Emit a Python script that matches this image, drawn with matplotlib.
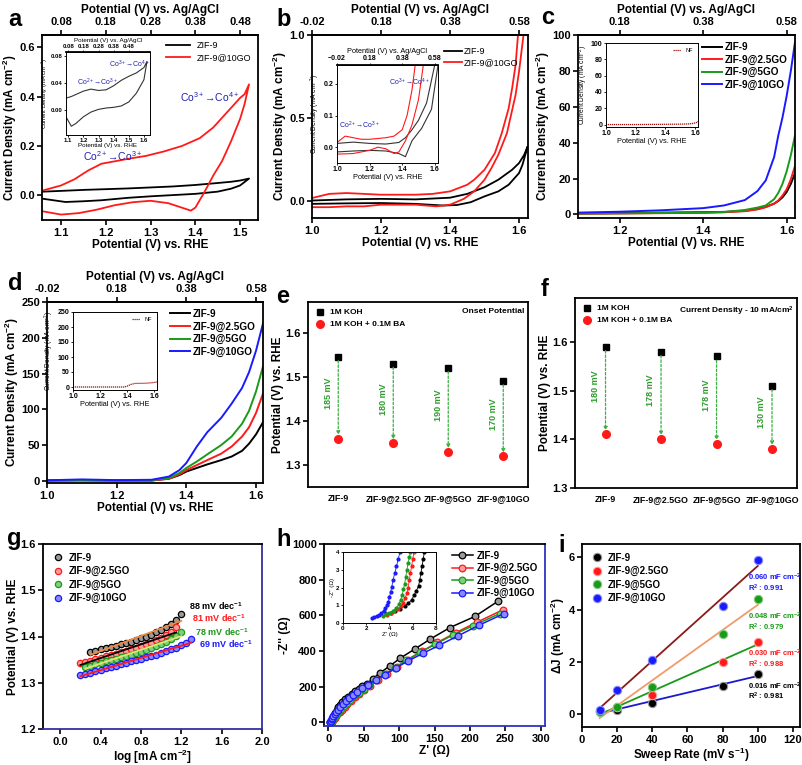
import matplotlib
matplotlib.use("Agg")
import matplotlib.pyplot as plt
import numpy as np

plt.rcParams["font.family"] = ["Liberation Sans", "DejaVu Sans"]
plt.rcParams["font.weight"] = "bold"
plt.rcParams["axes.labelweight"] = "bold"
plt.rcParams["axes.linewidth"] = 1.3
plt.rcParams["mathtext.fontset"] = "custom"
plt.rcParams["mathtext.rm"] = "Liberation Sans:bold"
plt.rcParams["mathtext.it"] = "Liberation Sans:bold:italic"
plt.rcParams["mathtext.bf"] = "Liberation Sans:bold"
plt.rcParams["mathtext.default"] = "regular"
for ax_ in ("xtick", "ytick"):
    plt.rcParams[f"{ax_}.major.width"] = 1.2
    plt.rcParams[f"{ax_}.major.size"] = 3.5
    plt.rcParams[f"{ax_}.labelsize"] = 8
    plt.rcParams[f"{ax_}.direction"] = "out"
plt.rcParams["xtick.major.pad"] = 2
plt.rcParams["ytick.major.pad"] = 1.5

W, H = 803, 765
OFFSET = 1.02  # RHE -> Ag/AgCl

# ---------------- data ----------------
# (a) CV, ZIF-9 vs ZIF-9@10GO
A_ZIF9_X = [1.06, 1.10, 1.15, 1.20, 1.25, 1.30, 1.35, 1.40, 1.45, 1.48, 1.50, 1.52,
            1.52, 1.50, 1.48, 1.45, 1.40, 1.34, 1.30, 1.25, 1.19, 1.15, 1.11, 1.06]
A_ZIF9_Y = [0.015, 0.018, 0.022, 0.025, 0.028, 0.032, 0.036, 0.042, 0.050, 0.055, 0.060, 0.068,
            0.068, 0.040, 0.027, 0.015, 0.006, 0.000, -0.004, -0.010, -0.020, -0.024, -0.027, -0.014]
A_GO_X = [1.06, 1.10, 1.13, 1.16, 1.19, 1.22, 1.25, 1.29, 1.33, 1.37, 1.41, 1.44, 1.47,
          1.49, 1.50, 1.51, 1.52, 1.51, 1.50, 1.48, 1.46, 1.44, 1.42, 1.40, 1.39, 1.37,
          1.34, 1.30, 1.26, 1.22, 1.18, 1.14, 1.10, 1.06]
A_GO_Y = [0.020, 0.040, 0.065, 0.100, 0.128, 0.138, 0.148, 0.160, 0.178, 0.200, 0.232, 0.275, 0.335,
          0.375, 0.395, 0.410, 0.450, 0.370, 0.310, 0.220, 0.140, 0.080, 0.012, -0.050, -0.062, -0.050,
          -0.032, -0.022, -0.028, -0.040, -0.058, -0.072, -0.078, -0.065]
AI_X = [1.09, 1.12, 1.15, 1.20, 1.25, 1.30, 1.35, 1.40, 1.45, 1.50, 1.55, 1.60, 1.62,
        1.62, 1.60, 1.55, 1.50, 1.45, 1.40, 1.35, 1.30, 1.25, 1.20, 1.15, 1.12, 1.09]
AI_Y = [0.018, 0.020, 0.023, 0.028, 0.031, 0.029, 0.030, 0.036, 0.044, 0.050, 0.055, 0.063, 0.072,
        0.072, 0.045, 0.025, 0.012, 0.006, 0.004, 0.003, 0.001, -0.003, -0.010, -0.020, -0.024, -0.012]

# (b) CV wide range
B_ZIF9_X = [1.00, 1.10, 1.20, 1.30, 1.40, 1.45, 1.50, 1.54, 1.58, 1.60, 1.615, 1.625,
            1.625, 1.61, 1.60, 1.57, 1.54, 1.50, 1.46, 1.42, 1.38, 1.30, 1.20, 1.10, 1.00]
B_ZIF9_Y = [0.005, 0.012, 0.015, 0.012, 0.022, 0.045, 0.085, 0.130, 0.190, 0.230, 0.280, 0.330,
            0.330, 0.220, 0.170, 0.100, 0.060, 0.030, -0.005, -0.022, -0.025, -0.015, -0.010, -0.012, -0.015]
B_GO_X = [1.00, 1.05, 1.10, 1.15, 1.20, 1.30, 1.35, 1.40, 1.45, 1.47, 1.50, 1.53, 1.55, 1.57, 1.58,
          1.59, 1.597, 1.613, 1.60, 1.59, 1.565, 1.54, 1.52, 1.50, 1.47, 1.44, 1.40, 1.36, 1.30,
          1.20, 1.15, 1.10, 1.05, 1.00]
B_GO_Y = [0.020, 0.045, 0.050, 0.045, 0.040, 0.040, 0.045, 0.060, 0.100, 0.130, 0.190, 0.290, 0.410,
          0.560, 0.680, 0.820, 1.000, 1.000, 0.780, 0.640, 0.410, 0.280, 0.200, 0.130, 0.060, 0.015,
          -0.020, -0.030, -0.020, -0.020, -0.030, -0.030, -0.035, -0.035]
BI_ZIF9_X = [1.00, 1.10, 1.20, 1.30, 1.38, 1.42, 1.46, 1.50, 1.55, 1.60,
             1.62, 1.58, 1.52, 1.46, 1.42, 1.38, 1.30, 1.20, 1.10, 1.00]
BI_ZIF9_Y = [0.012, 0.016, 0.012, 0.010, 0.015, 0.030, 0.055, 0.085, 0.140, 0.260,
             0.260, 0.120, 0.060, 0.020, -0.030, -0.020, -0.012, -0.010, -0.012, -0.015]
BI_GO_X = [1.00, 1.05, 1.10, 1.15, 1.20, 1.30, 1.35, 1.40, 1.43, 1.46, 1.48,
           1.53, 1.50, 1.46, 1.42, 1.38, 1.35, 1.30, 1.25, 1.20, 1.10, 1.00]
BI_GO_Y = [0.015, 0.035, 0.030, 0.025, 0.025, 0.030, 0.035, 0.055, 0.100, 0.180, 0.260,
           0.260, 0.150, 0.070, 0.020, -0.015, -0.020, -0.005, 0.000, -0.010, -0.020, -0.022]

# (c) LSV
C_X = [1.10, 1.20, 1.30, 1.40, 1.45, 1.50, 1.53, 1.55, 1.57, 1.58, 1.59, 1.60, 1.61, 1.62]
C_ZIF9 = [0.6, 0.8, 1.0, 1.2, 1.4, 2.0, 3.0, 4.2, 6.0, 7.5, 9.5, 12.5, 17.0, 23.0]
C_25GO = [0.3, 0.5, 0.7, 0.9, 1.2, 1.8, 2.8, 4.0, 6.0, 7.8, 10.5, 14.0, 19.5, 27.0]
C_5GO = [0.5, 0.6, 0.8, 1.0, 1.3, 2.5, 3.8, 5.0, 8.5, 12.0, 17.0, 24.0, 33.0, 44.0]
C_10GO = [1.0, 1.5, 2.3, 3.5, 5.0, 8.0, 13.0, 19.0, 32.0, 44.0, 54.0, 66.0, 80.0, 96.0]
CI_NF_X = [1.00, 1.20, 1.40, 1.50, 1.56, 1.59, 1.61, 1.62]
CI_NF_Y = [0.0, 0.0, 0.3, 0.5, 0.8, 1.5, 2.5, 4.0]

# (d) LSV
D_X = [1.00, 1.10, 1.20, 1.30, 1.35, 1.38, 1.40, 1.43, 1.46, 1.50, 1.53, 1.56, 1.58, 1.60, 1.62]
D_ZIF9 = [0.5, 1.0, 0.5, 0.5, 3, 8, 13, 18, 23, 29, 34, 42, 52, 65, 82]
D_25GO = [0.3, 0.5, 0.3, 0.5, 3, 9, 15, 22, 29, 38, 48, 62, 75, 95, 122]
D_5GO = [0.5, 0.8, 0.5, 0.8, 4, 11, 18, 27, 37, 50, 62, 80, 98, 125, 160]
D_10GO = [0.8, 2.0, 1.0, 1.5, 6, 15, 25, 48, 68, 88, 108, 130, 152, 182, 220]
DI_NF_X = [1.00, 1.20, 1.38, 1.40, 1.43, 1.46, 1.50, 1.55, 1.60, 1.62]
DI_NF_Y = [0, 0, 0, 3, 9, 12, 12, 13, 15, 17]

# (e), (f) potentials
CATS = ["ZIF-9", "ZIF-9@2.5GO", "ZIF-9@5GO", "ZIF-9@10GO"]
E_KOH = [1.545, 1.530, 1.520, 1.490]
E_BA = [1.360, 1.350, 1.330, 1.320]
E_LABELS = ["185 mV", "180 mV", "190 mV", "170 mV"]
F_KOH = [1.590, 1.580, 1.570, 1.510]
F_BA = [1.410, 1.400, 1.390, 1.380]
F_LABELS = ["180 mV", "178 mV", "178 mV", "130 mV"]

# (g) Tafel
G_ZIF9_X = [0.30, 0.35, 0.40, 0.45, 0.50, 0.55, 0.60, 0.65, 0.70, 0.75, 0.80, 0.85, 0.90, 0.95,
            1.00, 1.05, 1.10, 1.15, 1.20]
G_ZIF9_Y = [1.366, 1.369, 1.372, 1.375, 1.377, 1.380, 1.383, 1.386, 1.389, 1.392, 1.396, 1.400,
            1.404, 1.409, 1.414, 1.420, 1.427, 1.436, 1.448]
G_25GO_X = [0.20, 0.25, 0.30, 0.35, 0.40, 0.45, 0.50, 0.55, 0.60, 0.65, 0.70, 0.75, 0.80, 0.85,
            0.90, 0.95, 1.00, 1.05, 1.10, 1.15]
G_25GO_Y = [1.343, 1.345, 1.348, 1.351, 1.354, 1.357, 1.360, 1.363, 1.366, 1.369, 1.372, 1.375,
            1.379, 1.383, 1.387, 1.392, 1.397, 1.403, 1.410, 1.420]
G_5GO_X = [0.25, 0.30, 0.35, 0.40, 0.45, 0.50, 0.55, 0.60, 0.65, 0.70, 0.75, 0.80, 0.85, 0.90,
           0.95, 1.00, 1.05, 1.10, 1.15, 1.20]
G_5GO_Y = [1.334, 1.337, 1.340, 1.343, 1.346, 1.349, 1.352, 1.355, 1.358, 1.361, 1.364, 1.367,
           1.371, 1.375, 1.379, 1.384, 1.389, 1.395, 1.402, 1.410]
G_10GO_X = [0.20, 0.25, 0.30, 0.35, 0.40, 0.45, 0.50, 0.55, 0.60, 0.65, 0.70, 0.75, 0.80, 0.85,
            0.90, 0.95, 1.00, 1.05, 1.10, 1.15, 1.20, 1.25, 1.30]
G_10GO_Y = [1.316, 1.319, 1.322, 1.325, 1.328, 1.331, 1.334, 1.337, 1.340, 1.343, 1.346, 1.349,
            1.352, 1.355, 1.358, 1.361, 1.364, 1.368, 1.372, 1.376, 1.381, 1.387, 1.394]
G_SLOPES = ["88", "81", "78", "69"]

# (h) Nyquist
H_ZIF9_X = [3, 4, 5, 6, 7, 8, 10, 12, 14, 17, 20, 24, 28, 33, 38, 43, 48, 55, 63, 73, 87, 102, 122, 144, 172, 207, 240]
H_ZIF9_Y = [0, 5, 12, 20, 30, 40, 55, 70, 85, 100, 115, 130, 145, 160, 175, 190, 203, 218, 246, 277, 317, 361, 411, 467, 532, 594, 680]
H_25GO_X = [4, 5, 6, 7, 8, 9, 11, 13, 16, 19, 23, 27, 32, 38, 44, 51, 59, 70, 83, 97, 113, 132, 154, 180, 210, 246]
H_25GO_Y = [0, 3, 7, 12, 18, 25, 35, 45, 58, 72, 88, 105, 122, 140, 160, 180, 205, 237, 272, 310, 352, 398, 448, 503, 562, 630]
H_5GO_X = [3.5, 4, 5, 6, 7, 8, 10, 12, 15, 18, 22, 26, 31, 37, 43, 50, 58, 68, 80, 94, 110, 129, 151, 176, 205, 242]
H_5GO_Y = [0, 3, 8, 14, 20, 27, 38, 50, 63, 78, 94, 110, 128, 146, 165, 186, 208, 237, 270, 307, 348, 392, 438, 490, 543, 610]
H_10GO_X = [2.5, 3, 4, 5, 6, 7, 9, 11, 14, 17, 21, 25, 30, 35, 41, 48, 56, 67, 80, 95, 113, 134, 157, 183, 213, 248]
H_10GO_Y = [0, 4, 10, 18, 26, 34, 46, 58, 72, 87, 103, 120, 138, 155, 173, 192, 212, 238, 268, 305, 345, 388, 433, 485, 545, 610]
HI_ZIF9_X = [3.7, 4.1, 4.5, 4.9, 5.3, 5.6, 5.9, 6.1, 6.3, 6.5, 6.6, 6.7, 6.8, 6.9, 7.0]
HI_ZIF9_Y = [0.50, 0.58, 0.68, 0.80, 0.95, 1.10, 1.30, 1.55, 1.80, 2.10, 2.40, 2.80, 3.20, 3.60, 4.00]
HI_25GO_X = [3.8, 4.1, 4.4, 4.7, 5.0, 5.2, 5.35, 5.5, 5.6, 5.7, 5.8, 5.9, 6.0, 6.1]
HI_25GO_Y = [0.45, 0.55, 0.65, 0.78, 0.95, 1.15, 1.40, 1.70, 2.00, 2.40, 2.80, 3.20, 3.60, 4.00]
HI_5GO_X = [3.4, 3.7, 4.0, 4.3, 4.6, 4.8, 4.95, 5.1, 5.2, 5.3, 5.4, 5.5, 5.6, 5.7, 5.8]
HI_5GO_Y = [0.40, 0.48, 0.55, 0.68, 0.85, 1.05, 1.30, 1.60, 1.90, 2.20, 2.60, 3.00, 3.40, 3.70, 4.00]
HI_10GO_X = [2.5, 2.7, 2.9, 3.1, 3.3, 3.5, 3.65, 3.8, 3.9, 4.0, 4.1, 4.2, 4.3, 4.45, 4.6, 4.75, 4.9]
HI_10GO_Y = [0.30, 0.35, 0.40, 0.45, 0.55, 0.70, 0.85, 1.00, 1.20, 1.45, 1.75, 2.05, 2.40, 2.80, 3.20, 3.60, 4.00]

# (i) double layer capacitance
I_RATE = [10, 20, 40, 80, 100]
I_ZIF9 = [0.12, 0.18, 0.43, 1.08, 1.55]
I_25GO = [0.12, 0.28, 0.75, 2.00, 2.78]
I_5GO = [0.10, 0.30, 1.05, 3.05, 4.40]
I_10GO = [0.18, 0.95, 2.08, 4.15, 5.88]
I_CDL = ["0.016", "0.030", "0.048", "0.060"]
I_R2 = ["0.981", "0.988", "0.979", "0.991"]

NAMES4 = ["ZIF-9", "ZIF-9@2.5GO", "ZIF-9@5GO", "ZIF-9@10GO"]
COLS4 = ["black", "#ff1a1a", "#1a9a1a", "#1a1aff"]


def rect(l, t, r, b):
    return [l / W, 1 - b / H, (r - l) / W, (b - t) / H]


def ag_axis(ax, ticks, size=8, label_size=8.5, pad=3):
    sec = ax.secondary_xaxis("top", functions=(lambda x: x - OFFSET, lambda x: x + OFFSET))
    sec.set_xticks(ticks)
    sec.set_xticklabels([f"{t:.2f}" for t in ticks])
    sec.tick_params(labelsize=size)
    sec.set_xlabel("Potential (V) vs. Ag/AgCl", fontsize=label_size, labelpad=pad)
    return sec


def letter(x, y, s):
    fig.text(x / W, 1 - y / H, s, fontsize=17, fontweight="bold", ha="left", va="center")


fig = plt.figure(figsize=(W / 100, H / 100), dpi=100)
JLAB = "Current Density (mA cm$^{-2}$)"
RHE = "Potential (V) vs. RHE"

# ---------------- (a) ----------------
ax = fig.add_axes(rect(42, 35, 258, 220))
ax.plot(A_ZIF9_X, A_ZIF9_Y, color="black", lw=1.3, label="ZIF-9")
ax.plot(A_GO_X, A_GO_Y, color="#ff1a1a", lw=1.3, label="ZIF-9@10GO")
ax.set_xlim(1.0575, 1.54)
ax.set_ylim(-0.1, 0.65)
ax.set_xticks([1.1, 1.2, 1.3, 1.4, 1.5])
ax.set_yticks([0.0, 0.2, 0.4, 0.6])
ax.set_xlabel(RHE, fontsize=8.5, labelpad=1)
ax.set_ylabel(JLAB, fontsize=8.3, labelpad=0)
ag_axis(ax, [0.08, 0.18, 0.28, 0.38, 0.48])
ax.legend(loc="upper right", frameon=False, handlelength=2.6,
          prop={"weight": "normal", "size": 6.5}, borderaxespad=0.3, labelspacing=0.3)
ax.text(1.15, 0.158, "Co$^{2+}$→Co$^{3+}$", color="#1f1fb0", fontsize=7.5, fontweight="normal",
        va="center")
ax.text(1.365, 0.40, "Co$^{3+}$→Co$^{4+}$", color="#1f1fb0", fontsize=7.5, fontweight="normal",
        va="center")
letter(8, 20, "a")

ia = fig.add_axes(rect(66, 52, 150, 135))
ia.plot(AI_X, AI_Y, color="#333333", lw=0.8)
ia.set_xlim(1.085, 1.64)
ia.set_ylim(-0.037, 0.086)
ia.set_xticks([1.1, 1.2, 1.3, 1.4, 1.5, 1.6])
ia.set_yticks([0.0, 0.04, 0.08])
ia.set_yticklabels(["0.00", "0.04", "0.08"])
ia.tick_params(labelsize=4.3, length=1.5, width=0.6, pad=1)
for s in ia.spines.values():
    s.set_linewidth(0.7)
ia.set_xlabel(RHE, fontsize=4.5, labelpad=0, fontweight="normal")
ia.set_ylabel("Current Density (mA cm$^{-2}$)", fontsize=4.2, labelpad=0.5, fontweight="normal")
s2 = ia.secondary_xaxis("top", functions=(lambda x: x - OFFSET, lambda x: x + OFFSET))
s2.set_xticks([0.08, 0.18, 0.28, 0.38, 0.48])
s2.tick_params(labelsize=4.3, length=1.5, width=0.6, pad=1)
s2.set_xlabel("Potential (V) vs. Ag/AgCl", fontsize=4.5, labelpad=1, fontweight="normal")
ia.text(1.16, 0.037, "Co$^{2+}$→Co$^{3+}$", color="#1f1fb0", fontsize=5, fontweight="normal")
ia.text(1.37, 0.063, "Co$^{3+}$→Co$^{4+}$", color="#1f1fb0", fontsize=5, fontweight="normal")

# ---------------- (b) ----------------
ax = fig.add_axes(rect(312, 35, 528, 218))
ax.plot(B_ZIF9_X, B_ZIF9_Y, color="black", lw=1.3, label="ZIF-9")
ax.plot(B_GO_X, B_GO_Y, color="#ff1a1a", lw=1.3, label="ZIF-9@10GO")
ax.set_xlim(1.0, 1.626)
ax.set_ylim(-0.1, 1.0)
ax.set_xticks([1.0, 1.2, 1.4, 1.6])
ax.set_yticks([0.0, 0.5, 1.0])
ax.set_xlabel(RHE, fontsize=8.5, labelpad=1)
ax.set_ylabel(JLAB, fontsize=8.5, labelpad=0)
ag_axis(ax, [-0.02, 0.18, 0.38, 0.58])
ax.legend(loc="upper right", bbox_to_anchor=(0.985, 0.97), frameon=False, handlelength=2.0,
          handletextpad=0.2, prop={"weight": "normal", "size": 6.5}, borderaxespad=0.3,
          labelspacing=0.3)
letter(276, 20, "b")

ib = fig.add_axes(rect(337, 65, 438, 163))
ib.plot(BI_ZIF9_X, BI_ZIF9_Y, color="#333333", lw=0.8)
ib.plot(BI_GO_X, BI_GO_Y, color="#ff1a1a", lw=0.8)
ib.set_xlim(1.0, 1.62)
ib.set_ylim(-0.05, 0.26)
ib.set_xticks([1.0, 1.2, 1.4, 1.6])
ib.set_yticks([0.0, 0.1, 0.2])
ib.tick_params(labelsize=5, length=1.5, width=0.6, pad=1)
for s in ib.spines.values():
    s.set_linewidth(0.7)
ib.set_xlabel(RHE, fontsize=5.3, labelpad=0.5, fontweight="normal")
ib.set_ylabel("Current Density (mA cm$^{-2}$)", fontsize=4.8, labelpad=1, fontweight="normal")
s2 = ib.secondary_xaxis("top", functions=(lambda x: x - OFFSET, lambda x: x + OFFSET))
s2.set_xticks([-0.02, 0.18, 0.38, 0.58])
s2.tick_params(labelsize=5, length=1.5, width=0.6, pad=1)
s2.set_xlabel("Potential (V) vs. Ag/AgCl", fontsize=5.3, labelpad=1, fontweight="normal")
ib.text(1.01, 0.06, "Co$^{2+}$→Co$^{3+}$", color="#1f1fb0", fontsize=5, fontweight="normal")
ib.text(1.32, 0.195, "Co$^{3+}$→Co$^{4+}$", color="#1f1fb0", fontsize=5, fontweight="normal")


# ---------------- (c), (d) ----------------
def lsv(rectpx, xs, series, xlim, ylim, yticks, xticks, agticks, inset_rect, nf_x, nf_y,
        inset_ylim, inset_yticks, let):
    ax = fig.add_axes(rect(*rectpx))
    for ys, name, c in zip(series, NAMES4, COLS4):
        ax.plot(xs, ys, color=c, lw=1.4, label=name)
    ax.set_xlim(*xlim)
    ax.set_ylim(*ylim)
    ax.set_xticks(xticks)
    ax.set_yticks(yticks)
    ax.set_xlabel(RHE, fontsize=8.5, labelpad=1)
    ax.set_ylabel(JLAB, fontsize=8.5, labelpad=0)
    ag_axis(ax, agticks)
    ax.legend(loc="upper right", frameon=False, handlelength=2.0, handletextpad=0.3, fontsize=7.2,
              borderaxespad=0.3, labelspacing=0.25)
    letter(*let)
    ins = fig.add_axes(rect(*inset_rect))
    ins.plot(nf_x, nf_y, color="#a01010", lw=0.9, ls=(0, (1, 0.6)), label="NF")
    ins.set_xlim(1.0, 1.62)
    ins.set_ylim(*inset_ylim)
    ins.set_xticks([1.0, 1.2, 1.4, 1.6])
    ins.set_yticks(inset_yticks)
    ins.tick_params(labelsize=5, length=1.5, width=0.6, pad=1)
    for s in ins.spines.values():
        s.set_linewidth(0.7)
    ins.set_xlabel(RHE, fontsize=5.3, labelpad=0.5, fontweight="normal")
    ins.set_ylabel("Current Density (mA cm$^{-2}$)", fontsize=4.8, labelpad=1, fontweight="normal")
    ins.legend(loc="upper right", frameon=False, handlelength=1.5,
               prop={"weight": "normal", "size": 4})
    return ax


lsv((578, 35, 795, 218), C_X, [C_ZIF9, C_25GO, C_5GO, C_10GO], (1.1, 1.62), (-2, 100),
    [0, 20, 40, 60, 80, 100], [1.2, 1.4, 1.6], [0.18, 0.38, 0.58],
    (606, 43, 698, 127), CI_NF_X, CI_NF_Y, (-3, 100), [0, 20, 40, 60, 80, 100], (541, 18, "c"))
lsv((47, 302, 263, 483), D_X, [D_ZIF9, D_25GO, D_5GO, D_10GO], (1.0, 1.62), (-3, 250),
    [0, 50, 100, 150, 200, 250], [1.0, 1.2, 1.4, 1.6], [-0.02, 0.18, 0.38, 0.58],
    (73, 312, 157, 390), DI_NF_X, DI_NF_Y, (-10, 250), [0, 50, 100, 150, 200, 250], (8, 283, "d"))


# ---------------- (e), (f) ----------------
def potential_panel(rectpx, koh, ba, labels, ylim, note, let):
    ax = fig.add_axes(rect(*rectpx))
    xs = np.arange(len(CATS))
    for x, k, b, lab in zip(xs, koh, ba, labels):
        ax.annotate("", xy=(x, b + 0.008), xytext=(x, k - 0.008),
                    arrowprops=dict(arrowstyle="-|>", ls=(0, (2, 1.5)), color="#3cb043",
                                    lw=0.9, mutation_scale=5, shrinkA=0, shrinkB=0))
        ax.text(x - 0.1, (k + b) / 2 + 0.01, lab, rotation=90, ha="right", va="center",
                color="#2e9e2e", fontsize=6.5)
    ax.plot(xs, koh, ls="none", marker="s", ms=5, color="black", label="1M KOH")
    ax.plot(xs, ba, ls="none", marker="o", ms=5.5, color="#ff1a1a", label="1M KOH + 0.1M BA")
    ax.set_xlim(-0.55, 3.45)
    ax.set_ylim(*ylim)
    ax.set_xticks(xs)
    ax.set_xticklabels(CATS, fontsize=6.4)
    ax.tick_params(axis="x", length=0, pad=5)
    ax.set_yticks([1.3, 1.4, 1.5, 1.6])
    ax.set_ylabel(RHE, fontsize=8.5, labelpad=1)
    ax.legend(loc="upper left", frameon=False, fontsize=6, handletextpad=0.6,
              borderaxespad=0.4, labelspacing=0.5, handlelength=1.2)
    ax.text(0.985, 0.965, note, transform=ax.transAxes, ha="right", va="top", fontsize=6)
    letter(*let)


potential_panel((308, 302, 528, 487), E_KOH, E_BA, E_LABELS, (1.25, 1.67),
                "Onset Potential", (276, 297, "e"))
potential_panel((575, 298, 797, 488), F_KOH, F_BA, F_LABELS, (1.3, 1.69),
                "Current Density - 10 mA/cm$^{2}$", (541, 290, "f"))

# ---------------- (g) ----------------
ax = fig.add_axes(rect(43, 544, 262, 729))
gx = [G_ZIF9_X, G_25GO_X, G_5GO_X, G_10GO_X]
gy = [G_ZIF9_Y, G_25GO_Y, G_5GO_Y, G_10GO_Y]
fit_cols = ["#f08a3c", "black", "#e8e070", "#ff1a1a"]
light = ["#9a9a9a", "#ff9a9a", "#7fcf7f", "#8a8aff"]
for xs, ys, name, c, lc in zip(gx, gy, NAMES4, COLS4, light):
    ax.plot(xs, ys, ls="none", marker="o", ms=4.5, mfc=lc, mec=c, mew=0.9, label=name)
for xs, ys, fc in zip(gx, gy, fit_cols):
    k, b0 = np.polyfit(xs, ys, 1)
    xx = np.array([xs[0], xs[-1]])
    ax.plot(xx, k * xx + b0, color=fc, lw=1.3)
for (tx, ty), s, c in zip([(1.28, 1.465), (1.31, 1.44), (1.34, 1.409), (1.38, 1.384)], G_SLOPES, COLS4):
    ax.text(tx, ty, f"{s} mV dec$^{{-1}}$", color=c, fontsize=6.5, va="center")
ax.set_xlim(-0.17, 2.0)
ax.set_ylim(1.2, 1.6)
ax.set_xticks([0.0, 0.4, 0.8, 1.2, 1.6, 2.0])
ax.set_yticks([1.2, 1.3, 1.4, 1.5, 1.6])
ax.set_xlabel("log [mA cm$^{-2}$]", fontsize=8.5, labelpad=1)
ax.set_ylabel(RHE, fontsize=8.5, labelpad=1)
ax.spines["bottom"].set_color("#3030a0")
ax.spines["right"].set_color("#3030a0")
ax.legend(loc="upper left", frameon=False, fontsize=7, handletextpad=0.6, borderaxespad=0.5,
          labelspacing=0.35, handlelength=1.2)
letter(7, 538, "g")

# ---------------- (h) ----------------
ax = fig.add_axes(rect(324, 544, 545, 726))
hx = [H_ZIF9_X, H_25GO_X, H_5GO_X, H_10GO_X]
hy = [H_ZIF9_Y, H_25GO_Y, H_5GO_Y, H_10GO_Y]
for xs, ys, name, c, lc in zip(hx, hy, NAMES4, COLS4, light):
    ax.plot(xs, ys, color=c, lw=1.1, marker="o", ms=4.8, mfc=lc, mec=c, mew=0.9, label=name)
ax.set_xlim(-6, 306)
ax.set_ylim(-20, 1000)
ax.set_xticks([0, 50, 100, 150, 200, 250, 300])
ax.set_yticks([0, 200, 400, 600, 800, 1000])
ax.set_xlabel("Z' (Ω)", fontsize=8.5, labelpad=1)
ax.set_ylabel("-Z'' (Ω)", fontsize=8.5, labelpad=1)
ax.spines["bottom"].set_color("#3030c0")
ax.spines["right"].set_color("#3030c0")
ax.legend(loc="upper right", frameon=False, fontsize=7, handlelength=2.2, handletextpad=0.4,
          borderaxespad=0.3, labelspacing=0.25)
letter(276, 540, "h")

ih = fig.add_axes(rect(343, 552, 436, 623))
for xs, ys, c in zip([HI_ZIF9_X, HI_25GO_X, HI_5GO_X, HI_10GO_X],
                     [HI_ZIF9_Y, HI_25GO_Y, HI_5GO_Y, HI_10GO_Y], COLS4):
    ih.plot(xs, ys, color=c, lw=0.6, marker="o", ms=2, mfc=c, mec=c)
ih.set_xlim(0, 8)
ih.set_ylim(0, 4)
ih.set_xticks([0, 2, 4, 6, 8])
ih.set_yticks([0, 1, 2, 3, 4])
ih.tick_params(labelsize=4.5, length=1.5, width=0.6, pad=1)
for s in ih.spines.values():
    s.set_linewidth(0.7)
ih.set_xlabel("Z' (Ω)", fontsize=4.5, labelpad=0.5, fontweight="normal")
ih.set_ylabel("-Z'' (Ω)", fontsize=4.5, labelpad=1, fontweight="normal")

# ---------------- (i) ----------------
ax = fig.add_axes(rect(582, 544, 800, 727))
iy = [I_ZIF9, I_25GO, I_5GO, I_10GO]
ifit = ["#1a1acc", "#1a9a1a", "#f39a6a", "#8b1a1a"]
for ys, fc in zip(iy, ifit):
    k, b0 = np.polyfit(I_RATE, ys, 1)
    xx = np.array([I_RATE[0], I_RATE[-1]])
    ax.plot(xx, k * xx + b0, color=fc, lw=1.3)
for ys, name, c, lc in zip(iy, NAMES4, COLS4, light):
    ax.plot(I_RATE, ys, ls="none", marker="o", ms=6, mfc=c, mec=lc, mew=0.8, label=name)
for (cap_y, r2_y), cdl, r2, c in zip([(1.06, 0.67), (2.33, 1.91), (3.73, 3.31), (5.22, 4.79)],
                                     I_CDL, I_R2, COLS4):
    ax.text(94.5, cap_y, f"{cdl} mF cm$^{{-2}}$", color=c, fontsize=5.5, va="center")
    ax.text(94.5, r2_y, f"R$^{{2}}$ : {r2}", color=c, fontsize=5.5, va="center")
ax.set_xlim(0, 124)
ax.set_ylim(-0.48, 6.5)
ax.set_xticks([0, 20, 40, 60, 80, 100, 120])
ax.set_yticks([0, 2, 4, 6])
ax.set_xlabel("Sweep Rate (mV s$^{-1}$)", fontsize=8.5, labelpad=1)
ax.set_ylabel("ΔJ (mA cm$^{-2}$)", fontsize=8.5, labelpad=1)
ax.legend(loc="upper left", frameon=False, fontsize=7, handletextpad=0.6, borderaxespad=0.5,
          labelspacing=0.35, handlelength=1.2)
letter(558, 545, "i")

fig.savefig("out.png", dpi=100)
